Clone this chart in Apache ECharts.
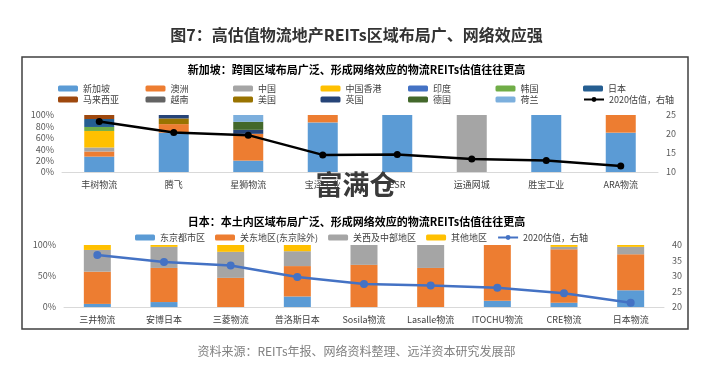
<!DOCTYPE html>
<html>
<head>
<meta charset="utf-8">
<script src="https://cdn.jsdelivr.net/npm/echarts@6/dist/echarts.min.js"></script>
<style>
  * { margin: 0; padding: 0; }
  body { background: #fff; }
  #chart-container { width: 713px; height: 375px; }
</style>
</head>
<body>
<div id="chart-container"></div>
<script>
  // 新加坡
  var sgCats = ['丰树物流', '腾飞', '星狮物流', '宝泽工业', 'ESR', '运通网城', '胜宝工业', 'ARA物流']
  var sgSingapore = [27, 69, 20, 87, 100, 0, 100, 69]
  var sgAustralia = [9, 15, 47, 13, 0, 0, 0, 31]
  var sgChina = [7, 0, 0, 0, 0, 100, 0, 0]
  var sgHongKong = [29, 0, 0, 0, 0, 0, 0, 0]
  var sgIndia = [0, 0, 0, 0, 0, 0, 0, 0]
  var sgKorea = [7, 0, 0, 0, 0, 0, 0, 0]
  var sgJapan = [14, 0, 0, 0, 0, 0, 0, 0]
  var sgMalaysia = [7, 0, 0, 0, 0, 0, 0, 0]
  var sgVietnam = [0, 0, 0, 0, 0, 0, 0, 0]
  var sgUSA = [0, 10, 0, 0, 0, 0, 0, 0]
  var sgUK = [0, 6, 7, 0, 0, 0, 0, 0]
  var sgGermany = [0, 0, 14, 0, 0, 0, 0, 0]
  var sgNetherlands = [0, 0, 12, 0, 0, 0, 0, 0]
  var sgValuation = [23.3, 20.4, 19.7, 14.5, 14.6, 13.4, 13.0, 11.6]

  // 日本
  var jpCats = ['三井物流', '安博日本', '三菱物流', '普洛斯日本', 'Sosila物流', 'Lasalle物流', 'ITOCHU物流', 'CRE物流', '日本物流']
  var jpTokyo = [5, 8, 0, 17, 0, 0, 10, 7, 27]
  var jpKanto = [52, 55, 47, 49, 68, 63, 90, 86, 58]
  var jpKansai = [35, 34, 42, 24, 32, 37, 0, 4, 12]
  var jpOther = [8, 3, 11, 10, 0, 0, 0, 3, 3]
  var jpValuation = [36.8, 34.5, 33.4, 29.7, 27.4, 26.9, 26.2, 24.4, 21.4]

  var font = '"Noto Sans CJK SC", "Noto Sans", sans-serif'

  var sgSeries = [
    ['新加坡', sgSingapore, '#5B9BD5'],
    ['澳洲', sgAustralia, '#ED7D31'],
    ['中国', sgChina, '#A5A5A5'],
    ['中国香港', sgHongKong, '#FFC000'],
    ['印度', sgIndia, '#4472C4'],
    ['韩国', sgKorea, '#70AD47'],
    ['日本', sgJapan, '#255E91'],
    ['马来西亚', sgMalaysia, '#9E480E'],
    ['越南', sgVietnam, '#636363'],
    ['美国', sgUSA, '#997300'],
    ['英国', sgUK, '#264478'],
    ['德国', sgGermany, '#43682B'],
    ['荷兰', sgNetherlands, '#7CAFDD'],
  ]
  var jpSeries = [
    ['东京都市区', jpTokyo, '#5B9BD5'],
    ['关东地区(东京除外)', jpKanto, '#ED7D31'],
    ['关西及中部地区', jpKansai, '#A5A5A5'],
    ['其他地区', jpOther, '#FFC000'],
  ]

  var series = []
  sgSeries.forEach(function (s) {
    series.push({
      name: s[0], type: 'bar', stack: 'sg', data: s[1],
      xAxisIndex: 0, yAxisIndex: 0, barWidth: 30,
      itemStyle: { color: s[2] },
    })
  })
  series.push({
    name: '2020估值，右轴', type: 'line', data: sgValuation,
    xAxisIndex: 0, yAxisIndex: 1, z: 5,
    symbol: 'circle', symbolSize: 7,
    lineStyle: { color: '#000', width: 2.5 },
    itemStyle: { color: '#000' },
  })
  jpSeries.forEach(function (s) {
    series.push({
      name: s[0], type: 'bar', stack: 'jp', data: s[1],
      xAxisIndex: 1, yAxisIndex: 2, barWidth: 27,
      itemStyle: { color: s[2] },
    })
  })
  series.push({
    name: '2020估值，右轴 ', type: 'line', data: jpValuation,
    xAxisIndex: 1, yAxisIndex: 3, z: 5,
    symbol: 'circle', symbolSize: 8,
    lineStyle: { color: '#4472C4', width: 2.5 },
    itemStyle: { color: '#4472C4' },
  })

  var axisLabel = { color: '#595959', fontSize: 9, fontFamily: font }
  var catLabel = { color: '#404040', fontSize: 9, fontFamily: font, interval: 0 }
  var baseLine = { show: true, lineStyle: { color: '#D9D9D9' } }
  var sgNames = sgSeries.map(function (s) { return s[0] }).concat(['2020估值，右轴'])

  // one legend per item so the columns line up as in the source
  var legends = sgNames.map(function (name, i) {
    return {
      data: [name], left: 58 + (i % 7) * 87.5, top: i < 7 ? 84 : 95, padding: 0,
      itemWidth: 20, itemHeight: 6,
      textStyle: { fontSize: 9, color: '#404040', fontFamily: font },
    }
  })
  legends.push({
    data: jpSeries.map(function (s) { return s[0] }).concat(['2020估值，右轴 ']),
    left: 135, top: 233, padding: 0,
    itemWidth: 20, itemHeight: 6, itemGap: 10,
    textStyle: { fontSize: 9, color: '#404040', fontFamily: font },
    formatter: function (n) { return n.trim() },
  })

  var myChart = echarts.init(document.getElementById('chart-container'), null, { renderer: 'canvas' })
  var option = {
    animation: false,
    title: [
      { text: '图7：高估值物流地产REITs区域布局广、网络效应强', left: 'center', top: 22,
        textStyle: { fontSize: 16, fontWeight: 'bold', color: '#333', fontFamily: font } },
      { text: '新加坡：跨国区域布局广泛、形成网络效应的物流REITs估值往往更高', left: 'center', top: 59,
        textStyle: { fontSize: 11, fontWeight: 'bold', color: '#000', fontFamily: font } },
      { text: '日本：本土内区域布局广泛、形成网络效应的物流REITs估值往往更高', left: 'center', top: 211,
        textStyle: { fontSize: 11, fontWeight: 'bold', color: '#000', fontFamily: font } },
      { text: '资料来源：REITs年报、网络资料整理、远洋资本研究发展部', left: 'center', top: 340,
        textStyle: { fontSize: 12, fontWeight: 'normal', color: '#808080', fontFamily: font } },
    ],
    legend: legends,
    grid: [
      { left: 62, right: 55, top: 115, height: 57 },
      { left: 64, right: 49, top: 245, height: 62 },
    ],
    xAxis: [
      { type: 'category', gridIndex: 0, data: sgCats, axisTick: { show: false }, axisLine: baseLine, axisLabel: catLabel },
      { type: 'category', gridIndex: 1, data: jpCats, axisTick: { show: false }, axisLine: baseLine, axisLabel: catLabel },
    ],
    yAxis: [
      { type: 'value', gridIndex: 0, min: 0, max: 100, interval: 20, splitLine: { show: false },
        axisLabel: Object.assign({ formatter: '{value}%' }, axisLabel) },
      { type: 'value', gridIndex: 0, min: 10, max: 25, interval: 5, position: 'right', splitLine: { show: false },
        axisLabel: axisLabel },
      { type: 'value', gridIndex: 1, min: 0, max: 100, interval: 50, splitLine: { show: false },
        axisLabel: Object.assign({ formatter: '{value}%' }, axisLabel) },
      { type: 'value', gridIndex: 1, min: 20, max: 40, interval: 5, position: 'right', splitLine: { show: false },
        axisLabel: axisLabel },
    ],
    graphic: [
      { type: 'rect', shape: { x: 22, y: 57, width: 666, height: 272 },
        style: { fill: 'none', stroke: '#404040', lineWidth: 1.5 }, silent: true },
      { type: 'text', x: 356, y: 185, z: 100,
        style: { text: '富满仓', fontSize: 27, fontWeight: 'bold', fill: '#3a3a3a',
          align: 'center', verticalAlign: 'middle', fontFamily: font } },
    ],
    series: series,
  }
  myChart.setOption(option)
</script>
</body>
</html>
